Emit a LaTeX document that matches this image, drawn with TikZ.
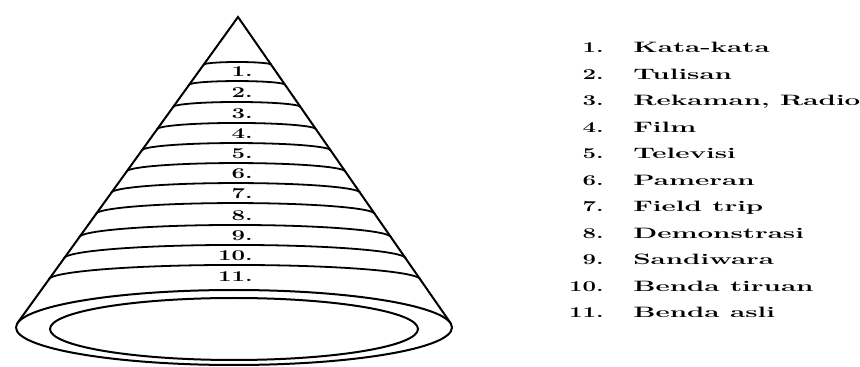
\documentclass[tikz,border=0pt]{standalone}
\usepackage{tikz}
\usetikzlibrary{positioning, calc}

\begin{document}
\begin{tikzpicture}[x=1pt, y=1pt,
    rim/.style={draw=black, line width=2pt},
    band/.style={draw=black, line width=1.8pt},
    lbl/.style={inner sep=0pt, anchor=base east, xscale=1.6,
      font=\fontsize{15}{18}\selectfont\bfseries},
    num/.style={inner sep=0pt, anchor=base east, xscale=1.6,
      font=\fontsize{15}{18}\selectfont\bfseries},
    item/.style={inner sep=0pt, anchor=base west, xscale=1.85,
      font=\fontsize{15}{18}\selectfont\bfseries}
  ]
  \useasboundingbox (0,0) rectangle (860,367);

  % cone
  \coordinate (apex) at (238,350);
  \coordinate (tl) at (17.5,44);
  \coordinate (tr) at (450.5,44);
  \draw[rim] (234,39.5) ellipse[x radius=218, y radius=37.5];
  \draw[rim] (234,38) ellipse[x radius=184, y radius=31];
  \draw[rim] (tl) -- (apex) -- (tr);

  % bands
  \draw[band] ($(apex)!0.1559!(tl)$) arc[start angle=180, end angle=0, x radius=33.8, y radius=2.7];
  \draw[band] ($(apex)!0.2217!(tl)$) arc[start angle=180, end angle=0, x radius=48.0, y radius=3.8];
  \draw[band] ($(apex)!0.2944!(tl)$) arc[start angle=180, end angle=0, x radius=63.7, y radius=5.1];
  \draw[band] ($(apex)!0.3672!(tl)$) arc[start angle=180, end angle=0, x radius=79.5, y radius=6.4];
  \draw[band] ($(apex)!0.4364!(tl)$) arc[start angle=180, end angle=0, x radius=94.5, y radius=7.5];
  \draw[band] ($(apex)!0.5057!(tl)$) arc[start angle=180, end angle=0, x radius=109.5, y radius=8.7];
  \draw[band] ($(apex)!0.5750!(tl)$) arc[start angle=180, end angle=0, x radius=124.5, y radius=9.9];
  \draw[band] ($(apex)!0.6443!(tl)$) arc[start angle=180, end angle=0, x radius=139.5, y radius=11.1];
  \draw[band] ($(apex)!0.7205!(tl)$) arc[start angle=180, end angle=0, x radius=156.0, y radius=12.5];
  \draw[band] ($(apex)!0.7897!(tl)$) arc[start angle=180, end angle=0, x radius=171.0, y radius=13.7];
  \draw[band] ($(apex)!0.8590!(tl)$) arc[start angle=180, end angle=0, x radius=186.0, y radius=14.9];

  % numbers in the cone
  \node[lbl] (l1) at (253,290) {1.};
  \node[lbl] (l2) at (253,269) {2.};
  \node[lbl] (l3) at (253,248) {3.};
  \node[lbl] (l4) at (253,228) {4.};
  \node[lbl] (l5) at (253,208) {5.};
  \node[lbl] (l6) at (253,188) {6.};
  \node[lbl] (l7) at (253,168) {7.};
  \node[lbl] (l8) at (253,146) {8.};
  \node[lbl] (l9) at (253,126) {9.};
  \node[lbl] (l10) at (253,106) {10.};
  \node[lbl] (l11) at (253,85) {11.};

  % list
  \node[num] (n1) at (604,314) {1.};
  \node[num] (n2) at (604,287.5) {2.};
  \node[num] (n3) at (604,261) {3.};
  \node[num] (n4) at (604,234.5) {4.};
  \node[num] (n5) at (604,208) {5.};
  \node[num] (n6) at (604,181.5) {6.};
  \node[num] (n7) at (604,155) {7.};
  \node[num] (n8) at (604,128.5) {8.};
  \node[num] (n9) at (604,102) {9.};
  \node[num] (n10) at (604,75.5) {10.};
  \node[num] (n11) at (604,49) {11.};
  \node[item, base right=29pt of n1] (k1) {Kata-kata};
  \node[item, base right=29pt of n2] (k2) {Tulisan};
  \node[item, base right=29pt of n3] (k3) {Rekaman, Radio};
  \node[item, base right=29pt of n4] (k4) {Film};
  \node[item, base right=29pt of n5] (k5) {Televisi};
  \node[item, base right=29pt of n6] (k6) {Pameran};
  \node[item, base right=29pt of n7] (k7) {Field trip};
  \node[item, base right=29pt of n8] (k8) {Demonstrasi};
  \node[item, base right=29pt of n9] (k9) {Sandiwara};
  \node[item, base right=29pt of n10] (k10) {Benda tiruan};
  \node[item, base right=29pt of n11] (k11) {Benda asli};
\end{tikzpicture}
\end{document}
